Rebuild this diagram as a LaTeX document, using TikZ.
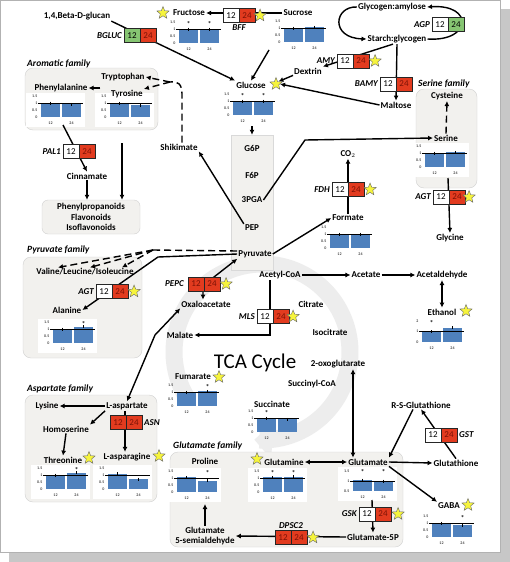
\documentclass[tikz,border=0pt]{standalone}
\usepackage{fontspec}
\setmainfont{Carlito}
\usetikzlibrary{positioning, shapes.geometric, arrows.meta}

\definecolor{boxred}{HTML}{E23B1F}
\definecolor{redtext}{HTML}{7A1206}
\definecolor{boxgreen}{HTML}{86C572}
\definecolor{barblue}{HTML}{4F81BD}
\definecolor{famgray}{HTML}{F2F1EE}
\definecolor{staryellow}{HTML}{F6F43C}

\pgfdeclarelayer{back}
\pgfdeclarelayer{links}
\pgfsetlayers{back,links,main}

\tikzset{
    met/.style={font=\bfseries\fontsize{9}{10.5}\selectfont, inner sep=1pt},
    gene/.style={font=\bfseries\itshape\fontsize{9}{10}\selectfont, inner sep=1pt},
    famtitle/.style={font=\bfseries\itshape\fontsize{9.5}{10}\selectfont, inner sep=0pt, anchor=west},
    cell/.style={draw=black!85, line width=0.6pt, outer sep=0pt, minimum width=16pt, minimum height=14pt, inner sep=0pt, font=\fontsize{9}{9}\selectfont},
    cellw/.style={cell, fill=white},
    cellr/.style={cell, fill=boxred, text=redtext},
    cellg/.style={cell, fill=boxgreen},
    ystar/.style={star, star points=5, star point ratio=2.3, minimum size=13pt, inner sep=0pt, fill=staryellow, draw=black!60, line width=0.4pt},
    famgroup/.style={draw=black!18, fill=famgray, rounded corners=8pt},
    arr/.style={-{Latex[length=5pt,width=5pt]}, line width=1.4pt},
    arrtwo/.style={{Latex[length=5pt,width=5pt]}-{Latex[length=5pt,width=5pt]}, line width=1.4pt},
    dasharr/.style={arr, dash pattern=on 7pt off 4pt},
    chtick/.style={font=\fontsize{4}{4.5}\selectfont, inner sep=0.5pt}
}

% x, y, px per unit, axis base, ticks, value 12, value 24, marks
\newcommand{\ratiochart}[8]{%
    \begin{scope}[shift={(#1,#2)}]
        \foreach \t in {#5}
            \node[chtick, anchor=east] at (0,{-(\t-#4)*#3}) {\t};
        \fill[barblue] (3,0) rectangle (22,{-(#6-#4)*#3});
        \fill[barblue] (24,0) rectangle (43,{-(#7-#4)*#3});
        \draw[line width=0.3pt] (12.5,{-(#6-#4)*#3-1.5}) -- ++(0,3);
        \draw[line width=0.3pt] (33.5,{-(#7-#4)*#3-1.5}) -- ++(0,3);
        \draw[line width=0.5pt] (0,{-(1-#4)*#3}) -- (45,{-(1-#4)*#3});
        \node[chtick] at (12.5,6) {12};
        \node[chtick] at (33.5,6) {24};
        #8
    \end{scope}}
\newcommand{\sig}[1]{\node[font=\bfseries\fontsize{7}{7}\selectfont, inner sep=0pt] at (#1,-19) {*};}
\newcommand{\chartbg}[2]{\fill[white] (#1-12,#2-24) rectangle (#1+47,#2+10);}

\begin{document}
\begin{tikzpicture}[x=1pt, y=-1pt]
    \useasboundingbox (0,0) rectangle (510,562);

    \begin{pgfonlayer}{back}
        \fill[black!22] (9,9) rectangle (510,562);
        \draw[black!30, fill=white] (0.5,0.5) rectangle (500,552);
        \draw[line width=17pt, black!7, -{Triangle[length=18pt, width=36pt]}] plot[smooth, domain=150:455, samples=60] ({262+88*cos(\x)},{352+88*sin(\x)});
        \draw[famgroup] (25,68) rectangle (158,130);
        \draw[famgroup] (416,89) rectangle (477,188);
        \draw[famgroup] (23,257) rectangle (142,358);
        \draw[famgroup] (25,395) rectangle (157,502);
        \draw[famgroup] (170,452) rectangle (403,547);
        \node[draw=black!15, fill=famgray, minimum width=42pt, minimum height=135pt] (glyco) at (252,202.5) {};
        \chartbg{38}{117}
        \chartbg{107}{117}
        \chartbg{422}{167}
        \chartbg{50}{343}
        \chartbg{43}{489}
        \chartbg{105}{489}
        \chartbg{174}{492}
        \chartbg{260}{492}
        \chartbg{350}{491}
    \end{pgfonlayer}

    \node[famtitle] (aromt) at (27,64) {Aromatic family};
    \node[famtitle] (sert) at (418,84) {Serine family};
    \node[famtitle] (pyrt) at (27,250) {Pyruvate family};
    \node[famtitle] (aspt) at (27,389) {Aspartate family};
    \node[famtitle] (glut) at (173,446) {Glutamate family};

    \node[met] (glucan) at (77,16) {1,4,Beta-D-glucan};
    \node[met] (fructose) at (189,13) {Fructose};
    \node[met] (sucrose) at (298,13) {Sucrose};
    \node[met] (glycogen) at (392,7) {Glycogen:amylose};
    \node[met] (starch) at (397,39) {Starch:glycogen};
    \node[met] (dextrin) at (308,71) {Dextrin};
    \node[met] (maltose) at (396,105) {Maltose};
    \node[met] (glucose) at (251,85) {Glucose};
    \node[met] (trp) at (123,77) {Tryptophan};
    \node[met] (phe) at (61,88) {Phenylalanine};
    \node[met] (tyr) at (127,94) {Tyrosine};
    \node[met] (shik) at (179,147) {Shikimate};
    \node[met] (cinn) at (87,176) {Cinnamate};
    \node[met, famgroup, rounded corners=6pt, align=center, minimum width=98pt, minimum height=34pt] (phenylprop) at (91,217) {Phenylpropanoids\\Flavonoids\\Isoflavonoids};
    \node[met] (g6p) at (252,148) {G6P};
    \node[met] (f6p) at (252,175) {F6P};
    \node[met] (pga) at (252,200) {3PGA};
    \node[met] (pep) at (252,228) {PEP};
    \node[met] (pyr) at (255,254) {Pyruvate};
    \node[met] (cys) at (447,96) {Cysteine};
    \node[met] (serine) at (446,138) {Serine};
    \node[met] (glycine) at (450,238) {Glycine};
    \node[met] (co2) at (348,154) {CO$_2$};
    \node[met] (formate) at (348,218) {Formate};
    \node[met] (vli) at (85,272) {Valine/Leucine/Isoleucine};
    \node[met] (ala) at (67,310) {Alanine};
    \node[met] (oaa) at (206,304) {Oxaloacetate};
    \node[met] (malate) at (180,335) {Malate};
    \node[met] (acoa) at (280,275) {Acetyl-CoA};
    \node[met] (acetate) at (366,275) {Acetate};
    \node[met] (acald) at (442,275) {Acetaldehyde};
    \node[met] (ethanol) at (442,312) {Ethanol};
    \node[met] (citrate) at (311,304) {Citrate};
    \node[met] (isocit) at (330,332) {Isocitrate};
    \node[met] (oxoglu) at (338,364) {2-oxoglutarate};
    \node[met] (succoa) at (312,384) {Succinyl-CoA};
    \node[met] (succinate) at (272,404) {Succinate};
    \node[met] (fumarate) at (193,377) {Fumarate};
    \node[font=\fontsize{21}{23}\selectfont] (tca) at (255,363) {TCA Cycle};
    \node[met] (lys) at (47,406) {Lysine};
    \node[met] (asp) at (127,406) {L-aspartate};
    \node[met] (hser) at (66,429) {Homoserine};
    \node[met] (thr) at (63,460) {Threonine};
    \node[met] (asn) at (127,457) {L-asparagine};
    \node[met] (pro) at (205,461) {Proline};
    \node[met] (gln) at (284,462) {Glutamine};
    \node[met] (glu) at (368,462) {Glutamate};
    \node[met] (gsh) at (456,463) {Glutathione};
    \node[met] (rsg) at (421,405) {R-S-Glutathione};
    \node[met] (gaba) at (449,506) {GABA};
    \node[met] (glu5p) at (373,537) {Glutamate-5P};
    \node[met, align=center] (gsa) at (205,536) {Glutamate\\5-semialdehyde};

    \coordinate (sucbase) at (269,50);
    \coordinate (glcbase) at (252,126);
    \coordinate (serbase) at (448,178);
    \coordinate (phebase) at (63,125);
    \coordinate (tyrbase) at (122,143);
    \coordinate (shikturn) at (170,82);
    \coordinate (pyrfork) at (153,250);
    \coordinate (glubase) at (372,500);
    \coordinate (probase) at (205,504);

    \node[ystar] (frustar) at (163,13) {};
    \node[ystar] (gstar) at (276,84) {};

    \begin{pgfonlayer}{links}
        \draw[arr] (glucan.south east) -- (glucose.north west);
        \draw[arr] (sucrose.west) -- (fructose.east);
        \draw[arr] (sucbase) -- (glucose.north);
        \draw[arr] (glycogen.west) .. controls (334,6) and (330,38) .. (starch.west);
        \draw[arr] (starch.east) .. controls (472,42) and (474,4) .. (glycogen.east);
        \draw[arr] ([xshift=-4pt]starch.south) -- (dextrin.north east);
        \draw[arr] (starch.south) -- (maltose.north);
        \draw[arr] (maltose.west) -- (gstar.east);
        \draw[arr] (dextrin.south west) -- (gstar.north east);
        \draw[arr] (glcbase) -- (glyco.north);
        \draw[arr] (pep.north west) -- (shik.south east);
        \draw[dasharr, -] ([xshift=3pt]shik.north) -- (182,94) .. controls (182,84) and (178,81) .. (shikturn);
        \draw[dasharr] (shikturn) -- (trp.east);
        \draw[dasharr] (shikturn) -- (tyr.north east);
        \draw[dasharr] (trp.south west |- phe.east) -- (phe.east);
        \draw[arr] (phebase) -- (cinn.north);
        \draw[arr] (cinn.south) -- (cinn.south |- phenylprop.north);
        \draw[arr] (tyrbase) -- (tyrbase |- phenylprop.north);
        \draw[arr] (pga.east) -- (305,140) -- (serine.west);
        \draw[dasharr] (serine.north) -- (cys.south);
        \draw[arr] (serbase) -- (glycine.north);
        \draw[arr] (pyr.east) -- (formate.west);
        \draw[arr] (formate.north) -- (co2.south);
        \draw[arr] (acoa.east) -- (acetate.west);
        \draw[arr] (acetate.east) -- (acald.west);
        \draw[arrtwo] (acald.south) -- (ethanol.north);
        \draw[arr] ([xshift=-10pt]acoa.south) |- (malate.east);
        \draw[arrtwo] ([xshift=-3pt]oaa.north) -- ++(0,-14) -- (pyr.south west);
        \draw[arrtwo] (asp.north) -- (155,335) -- (oaa.south west);
        \draw[arr] (pyr.west) -- (158,257) -- (ala.east);
        \draw[dasharr, -] ([yshift=3pt]pyr.west) -- (pyrfork);
        \foreach \dx in {-27,5,37}
            \draw[dasharr] (pyrfork) -- ([xshift=\dx pt]vli.north);
        \draw[arrtwo] ([xshift=15pt]oxoglu.south) -- ([xshift=-15pt]glu.north);
        \draw[arr] (asp.west) -- (lys.east);
        \draw[arr] (asp.south west) -- (hser.north east);
        \draw[arr] (hser.south) -- (thr.north);
        \draw[arr] ([xshift=-2pt]asp.south) -- ([xshift=-2pt]asn.north);
        \draw[arrtwo] (gln.east) -- (glu.west);
        \draw[arr] (glu.east) -- (gsh.west);
        \draw[arr] (glu.south east) -- (gaba.north west);
        \draw[arr] ([xshift=-8pt]rsg.south) -- (glu.north east);
        \draw[arr] (gsh.north) -- (rsg.south);
        \draw[arr] (glubase) -- (glu5p.north);
        \draw[arr] (glu5p.west) -- (gsa.east);
        \draw[arr] (gsa.north) -- (probase);
    \end{pgfonlayer}

    \node[cellg] (bgluc12) at (132,35.5) {12};
    \node[cellr, right=0pt of bgluc12] (bgluc24) {24};
    \node[gene, left=1pt of bgluc12] (bglucname) {BGLUC};

    \node[cellw] (bff12) at (231,15.5) {12};
    \node[cellr, right=0pt of bff12] (bff24) {24};
    \node[gene, below=1pt of bff12.south east] (bffname) {BFF};
    \node[ystar, right=1pt of bff24] (bffstar) {};

    \node[cellw] (agp12) at (440,24.5) {12};
    \node[cellg, right=0pt of agp12] (agp24) {24};
    \node[gene, left=1pt of agp12] (agpname) {AGP};

    \node[cellw] (amy12) at (345,61) {12};
    \node[cellr, right=0pt of amy12] (amy24) {24};
    \node[gene, left=1pt of amy12] (amyname) {AMY};
    \node[ystar, right=2pt of amy24] (amystar) {};

    \node[cellw] (bamy12) at (388,84) {12};
    \node[cellr, right=0pt of bamy12] (bamy24) {24};
    \node[gene, left=1pt of bamy12] (bamyname) {BAMY};

    \node[cellw] (pal12) at (71,151.5) {12};
    \node[cellr, right=0pt of pal12] (pal24) {24};
    \node[gene, left=1pt of pal12] (palname) {PAL1};

    \node[cellw] (fdh12) at (340,189.5) {12};
    \node[cellr, right=0pt of fdh12] (fdh24) {24};
    \node[gene, left=1pt of fdh12] (fdhname) {FDH};
    \node[ystar, right=2pt of fdh24] (fdhstar) {};

    \node[cellw] (agts12) at (441,197) {12};
    \node[cellr, right=0pt of agts12] (agts24) {24};
    \node[gene, left=1pt of agts12] (agtsname) {AGT};
    \node[ystar, right=0pt of agts24] (agtsstar) {};

    \node[cellw] (agtp12) at (104,291.5) {12};
    \node[cellr, right=0pt of agtp12] (agtp24) {24};
    \node[gene, left=1pt of agtp12] (agtpname) {AGT};
    \node[ystar, right=2pt of agtp24] (agtpstar) {};

    \node[cellr] (pepc12) at (196,284) {12};
    \node[cellr, right=0pt of pepc12] (pepc24) {24};
    \node[gene, left=3pt of pepc12] (pepcname) {PEPC};
    \node[ystar, right=2pt of pepc24] (pepcstar) {};

    \node[cellw] (mls12) at (265,316.5) {12};
    \node[cellr, right=0pt of mls12] (mls24) {24};
    \node[gene, left=1pt of mls12] (mlsname) {MLS};
    \node[ystar, right=0pt of mls24] (mlsstar) {};

    \node[cellr] (asn12) at (118,422.5) {12};
    \node[cellr, right=0pt of asn12] (asn24) {24};
    \node[gene, right=1pt of asn24] (asnname) {ASN};

    \node[cellw] (gst12) at (433,435) {12};
    \node[cellr, right=0pt of gst12] (gst24) {24};
    \node[gene, right=1pt of gst24] (gstname) {GST};

    \node[cellw] (gsk12) at (367,514) {12};
    \node[cellr, right=0pt of gsk12] (gsk24) {24};
    \node[gene, left=1pt of gsk12] (gskname) {GSK};
    \node[ystar, right=3pt of gsk24] (gskstar) {};

    \node[cellr] (dps12) at (283,537.5) {12};
    \node[cellr, right=0pt of dps12] (dps24) {24};
    \node[gene, above=1pt of dps12.north east] (dpsname) {DPSC2};
    \node[ystar, right=2pt of dps24] (dpsstar) {};

    \node[ystar] (ethstar) at (466,311) {};
    \node[ystar] (fumstar) at (219,377) {};
    \node[ystar] (thrstar) at (89,458) {};
    \node[ystar] (asnstar) at (159,456) {};
    \node[ystar] (glnstar) at (257,459) {};
    \node[ystar] (gabastar) at (468,505) {};

    \ratiochart{176}{43}{14}{0}{0,0.5,1,1.5}{1}{1}{\sig{12.5}\sig{33.5}}
    \ratiochart{281}{42}{14}{0}{0,0.5,1,1.5}{1}{1.05}{}
    \ratiochart{230}{115}{14}{0}{0,0.5,1,1.5}{1}{1}{\sig{12.5}\sig{33.5}}
    \ratiochart{38}{117}{14}{0}{0,0.5,1,1.5}{1}{0.9}{}
    \ratiochart{107}{117}{14}{0}{0,0.5,1,1.5}{1}{0.85}{}
    \ratiochart{422}{167}{14}{0}{0,0.5,1,1.5}{1}{1.05}{}
    \ratiochart{327}{248}{14}{0}{0,0.5,1,1.5}{1}{1}{}
    \ratiochart{50}{343}{14}{0}{0,0.5,1,1.5}{1}{1.15}{\sig{33.5}}
    \ratiochart{419}{342}{10.5}{0}{0,1,2}{1}{1.35}{\sig{12.5}}
    \ratiochart{174}{406}{14}{0}{0,0.5,1,1.5}{1}{1.05}{\sig{33.5}}
    \ratiochart{254}{432}{14}{0}{0,0.5,1,1.5}{1}{0.9}{\sig{12.5}}
    \ratiochart{43}{489}{14}{0}{0,0.5,1,1.5}{1}{1.15}{\sig{33.5}}
    \ratiochart{105}{489}{14}{0}{0,0.5,1,1.5}{1.1}{0.7}{}
    \ratiochart{174}{492}{14}{0}{0,0.5,1,1.5}{1.05}{0.8}{\sig{33.5}}
    \ratiochart{260}{492}{14}{0}{0,0.5,1,1.5}{1.05}{1.1}{\sig{12.5}\sig{33.5}}
    \ratiochart{350}{491}{20}{0.5}{0.5,1,1.5}{1.05}{1}{\sig{12.5}\sig{33.5}}
    \ratiochart{429}{537}{14}{0}{0,0.5,1,1.5}{1}{0.85}{\sig{33.5}}
\end{tikzpicture}
\end{document}
